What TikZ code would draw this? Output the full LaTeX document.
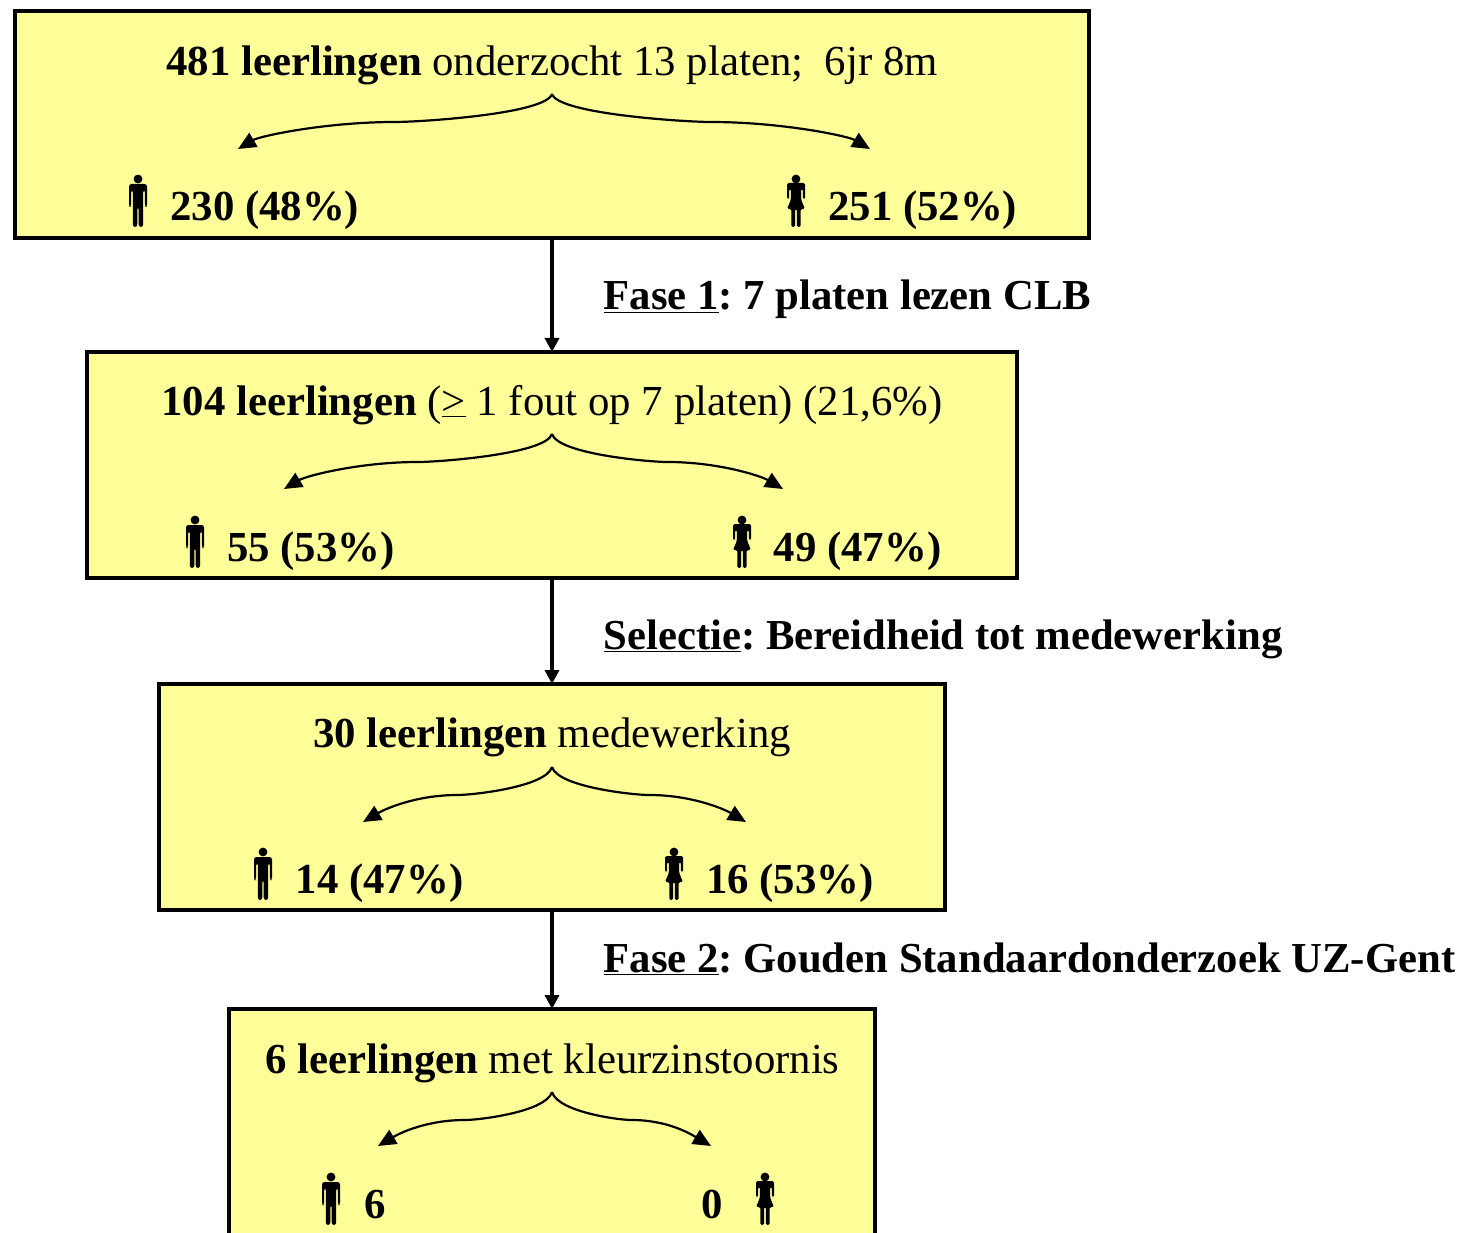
\documentclass[tikz,border=0pt]{standalone}
\usepackage{fontspec}
\setmainfont{Liberation Serif}
\usetikzlibrary{arrows.meta,calc}
\tikzset{
  x=1pt,y=-1pt,
  boxnode/.style={draw=black,fill=boxyellow,line width=3.6pt,inner sep=0pt,outer sep=0pt,rectangle},
  headtext/.style={font=\fontsize{42.8}{43}\selectfont,anchor=base,inner sep=0pt,text=black},
  counttext/.style={font=\fontsize{42.8}{43}\selectfont\bfseries,anchor=base west,inner sep=0pt},
  steptext/.style={font=\fontsize{42.7}{43}\selectfont\bfseries,anchor=base west,inner sep=0pt},
  flowarrow/.style={line width=3.4pt,-{Triangle[length=14pt,width=14pt]}},
  bracearrow/.style={line width=2.2pt,-{Triangle[length=18pt,width=16pt]}},
  man/.pic={
    \fill (0,-48) circle (4.4);
    \fill[rounded corners=2.5] (-9,-43) -- (9,-43) -- (9,-20) -- (6.9,-20) -- (6.9,-37) -- (5.2,-37) -- (5.2,0) -- (0.7,0) -- (0.7,-20) -- (-0.7,-20) -- (-0.7,0) -- (-5.2,0) -- (-5.2,-37) -- (-6.9,-37) -- (-6.9,-20) -- (-9,-20) -- cycle;
  },
  woman/.pic={
    \fill (0,-48) circle (4.4);
    \fill[rounded corners=1.5] (-9,-44) -- (9,-44) -- (9,-28) -- (6.9,-28) -- (6.9,-38) -- (5.2,-38) -- (5.2,-27) -- (9,-18) -- (4.6,-18) -- (4.6,0) -- (0.9,0) -- (0.9,-18) -- (-0.9,-18) -- (-0.9,0) -- (-4.6,0) -- (-4.6,-18) -- (-9,-18) -- (-5.2,-27) -- (-5.2,-38) -- (-6.9,-38) -- (-6.9,-28) -- (-9,-28) -- cycle;
  },
}
\definecolor{boxyellow}{HTML}{FFFF99}
% #1 top, #2 left tip, #3 right tip (named coordinates)
\newcommand{\splitbrace}[3]{%
  \draw[bracearrow] (#1) .. controls ($(#1)+(-6,20)$) and ($(#1)!0.42!(#2 |- #1)+(0,28)$) .. ($(#1)!0.5!(#2 |- #1)+(0,28)$) .. controls ($(#1)!0.72!(#2 |- #1)+(0,28)$) and ($(#2)+(22,-13)$) .. (#2);
  \draw[bracearrow] (#1) .. controls ($(#1)+(6,20)$) and ($(#1)!0.42!(#3 |- #1)+(0,28)$) .. ($(#1)!0.5!(#3 |- #1)+(0,28)$) .. controls ($(#1)!0.72!(#3 |- #1)+(0,28)$) and ($(#3)+(-22,-13)$) .. (#3);
}
\begin{document}
\frenchspacing
\begin{tikzpicture}
\useasboundingbox (0,0) rectangle (1468,1233);
\clip (0,0) rectangle (1468,1233);
% boxes
\node[boxnode,minimum width=1074pt,minimum height=227pt] (b1) at (552,124.5) {};
\node[boxnode,minimum width=930pt,minimum height=226pt] (b2) at (552,465) {};
\node[boxnode,minimum width=786pt,minimum height=226pt] (b3) at (552,797) {};
\node[boxnode,minimum width=646pt,minimum height=250pt] (b4) at (552,1134) {};
% connectors
\draw[flowarrow] (b1.south) -- (b2.north);
\draw[flowarrow] (b2.south) -- (b3.north);
\draw[flowarrow] (b3.south) -- (b4.north);
% headings
\node[headtext] (h1) at (552,76) {\textbf{481 leerlingen} onderzocht 13 platen;\ \ 6jr 8m};
\node[headtext] (h2) at (552,415) {\textbf{104 leerlingen} (\underline{>} 1 fout op 7 platen) (21,6\%)};
\node[headtext] (h3) at (552,747) {\textbf{30 leerlingen} medewerking};
\node[headtext] (h4) at (552.5,1073) {\textbf{6 leerlingen} met kleurzinstoornis};
% step labels
\node[steptext] (s1) at (603.5,310) {\underline{Fase 1}: 7 platen lezen CLB};
\node[steptext] (s2) at (603.5,649) {\underline{Selectie}: Bereidheid tot medewerking};
\node[steptext] (s3) at (603.5,972) {\underline{Fase 2}: Gouden Standaardonderzoek UZ-Gent};
% braces
\coordinate (t1) at (552,94);  \coordinate (l1) at (238,149);  \coordinate (r1) at (870,149);
\coordinate (t2) at (552,434); \coordinate (l2) at (284,489);  \coordinate (r2) at (783,489);
\coordinate (t3) at (552,767); \coordinate (l3) at (363,822);  \coordinate (r3) at (746,822);
\coordinate (t4) at (552,1092);\coordinate (l4) at (378,1146); \coordinate (r4) at (711,1146);
\splitbrace{t1}{l1}{r1}
\splitbrace{t2}{l2}{r2}
\splitbrace{t3}{l3}{r3}
\splitbrace{t4}{l4}{r4}
% figures and counts
\pic at (138,227) {man};
\node[counttext] (c1m) at (170,221) {230 (48\%)};
\pic at (796,227) {woman};
\node[counttext] (c1w) at (828,221) {251 (52\%)};
\pic at (195,568) {man};
\node[counttext] (c2m) at (227,561) {55 (53\%)};
\pic at (742,568) {woman};
\node[counttext] (c2w) at (773.5,561) {49 (47\%)};
\pic at (263,900) {man};
\node[counttext] (c3m) at (295.5,893) {14 (47\%)};
\pic at (674,900) {woman};
\node[counttext] (c3w) at (706,893) {16 (53\%)};
\pic at (331,1225) {man};
\node[counttext] (c4m) at (364,1218) {6};
\pic at (765,1225) {woman};
\node[counttext] (c4w) at (701,1218) {0};
\end{tikzpicture}
\end{document}
